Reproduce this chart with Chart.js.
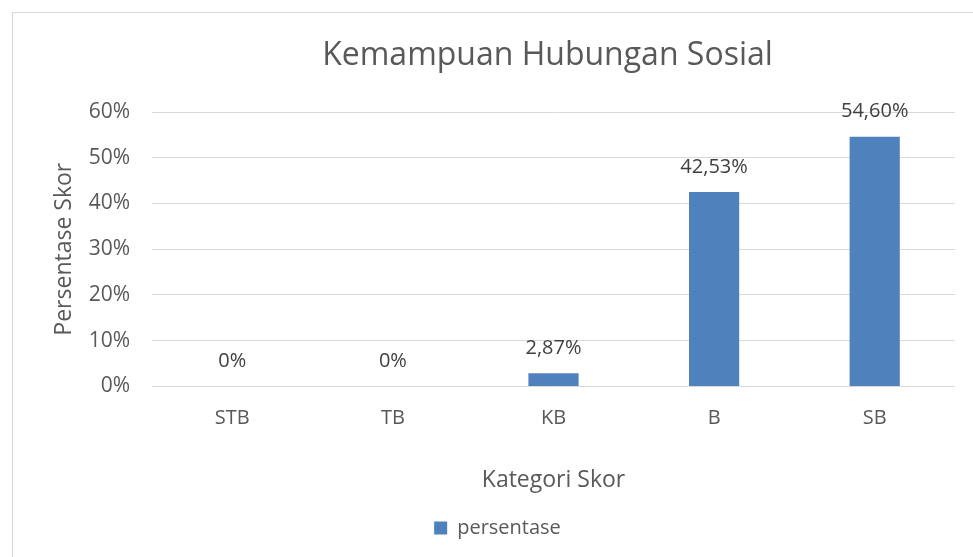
<!DOCTYPE html>
<html>
<head>
<meta charset="utf-8">
<script src="https://cdn.jsdelivr.net/npm/chart.js@4.4.0/dist/chart.umd.min.js"></script>
<style>
    html, body { margin: 0; padding: 0; background: #fff; }
</style>
</head>
<body>
<canvas id="chart" width="973" height="557"></canvas>
<script>
// data
const categories = ['STB', 'TB', 'KB', 'B', 'SB'];
const persentase = [0, 0, 2.87, 42.53, 54.60];
const yTicks = [0, 10, 20, 30, 40, 50, 60];
const chartTitle = 'Kemampuan Hubungan Sosial';

const textColor = '#595959';
const gridColor = '#d9d9d9';
const barColor = '#4f81bd';

function fmtPct(v) {
    if (v === 0) return '0%';
    return v.toFixed(2).replace('.', ',') + '%';
}

// chart outer frame (partly cut off at right/bottom like the reference)
const framePlugin = {
    id: 'frame',
    beforeDraw(chart) {
        const ctx = chart.ctx;
        ctx.save();
        ctx.fillStyle = '#fff';
        ctx.fillRect(0, 0, chart.width, chart.height);
        ctx.strokeStyle = '#d9d9d9';
        ctx.lineWidth = 1;
        ctx.strokeRect(12.5, 12.5, chart.width + 20, chart.height + 20);
        ctx.restore();
    }
};

// title centred over the plot area, as in the reference
const plotTitlePlugin = {
    id: 'plotTitle',
    afterDraw(chart) {
        const ctx = chart.ctx;
        const area = chart.chartArea;
        ctx.save();
        ctx.font = '32px "Open Sans"';
        ctx.fillStyle = textColor;
        ctx.textAlign = 'center';
        ctx.textBaseline = 'middle';
        ctx.fillText(chartTitle, (area.left + area.right) / 2 - 6, 56);
        ctx.restore();
    }
};

// value labels above bars
const valueLabelPlugin = {
    id: 'valueLabels',
    afterDatasetsDraw(chart) {
        const ctx = chart.ctx;
        const meta = chart.getDatasetMeta(0);
        ctx.save();
        ctx.font = '20px "Open Sans"';
        ctx.fillStyle = '#404040';
        ctx.textAlign = 'center';
        ctx.textBaseline = 'middle';
        meta.data.forEach(function(bar, i) {
            ctx.fillText(fmtPct(persentase[i]), bar.x, bar.y - 25);
        });
        ctx.restore();
    }
};

new Chart(document.getElementById('chart'), {
    type: 'bar',
    data: {
        labels: categories,
        datasets: [{
            label: 'persentase',
            data: persentase,
            backgroundColor: barColor,
            borderWidth: 0,
            barPercentage: 0.3125,
            categoryPercentage: 1,
        }]
    },
    options: {
        responsive: false,
        animation: false,
        layout: { padding: { left: 40, right: 18, top: 112, bottom: 9 } },
        scales: {
            y: {
                min: 0,
                max: 60,
                afterBuildTicks: function(s) { s.ticks = yTicks.map(v => ({ value: v })); },
                afterFit: function(s) { s.width = 112; },
                ticks: {
                    color: textColor,
                    font: { family: 'Open Sans', size: 21 },
                    padding: 22,
                    callback: v => v + '%',
                },
                grid: { color: gridColor, lineWidth: 1, drawTicks: false },
                border: { display: false },
                title: {
                    display: true,
                    text: 'Persentase Skor',
                    color: textColor,
                    font: { family: 'Open Sans', size: 23 },
                    padding: { top: 11, bottom: 0 },
                },
            },
            x: {
                grid: { display: false, drawTicks: false },
                border: { display: false },
                ticks: {
                    color: textColor,
                    font: { family: 'Open Sans', size: 20 },
                    padding: 20,
                },
                title: {
                    display: true,
                    text: 'Kategori Skor',
                    color: textColor,
                    font: { family: 'Open Sans', size: 23 },
                    padding: { top: 16, bottom: 10 },
                },
            },
        },
        plugins: {
            title: { display: false },
            legend: {
                position: 'bottom',
                labels: {
                    color: textColor,
                    font: { family: 'Open Sans', size: 20 },
                    boxWidth: 13,
                    boxHeight: 13,
                    padding: 14,
                },
            },
            tooltip: { enabled: false },
        },
    },
    plugins: [framePlugin, plotTitlePlugin, valueLabelPlugin],
});
</script>
</body>
</html>
